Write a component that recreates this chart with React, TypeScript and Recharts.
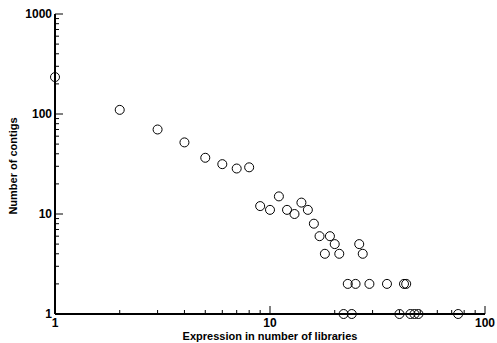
import { ScatterChart, Scatter, XAxis, YAxis } from "recharts";

// expression (number of libraries) vs number of contigs
const libraries = [
  1, 2, 3, 4, 5, 6, 7, 8, 9, 10, 11, 12, 13, 14, 15, 16, 17, 18, 19, 20, 21,
  23, 25, 22, 24, 26, 27, 29, 35, 40, 42, 43, 45, 47, 49, 75,
];
const contigs = [
  234, 110, 70, 52, 36.5, 31.5, 28.5, 29.3, 12, 11, 15, 11, 10, 13, 11, 8, 6,
  4, 6, 5, 4, 2, 2, 1, 1, 5, 4, 2, 2, 1, 2, 2, 1, 1, 1, 1,
];

const xTicks = [1, 2, 3, 4, 5, 6, 7, 8, 9, 10, 20, 30, 40, 50, 60, 70, 80, 90, 100];
const yTicks = [
  1, 2, 3, 4, 5, 6, 7, 8, 9, 10, 20, 30, 40, 50, 60, 70, 80, 90, 100, 200, 300,
  400, 500, 600, 700, 800, 900, 1000,
];

const points = libraries.map((x, i) => ({ x, y: contigs[i] }));

const FONT = "'Liberation Sans', Arial, Helvetica, sans-serif";
const isMajor = (v: number) => [1, 10, 100, 1000].includes(v);

const BottomTick = (props: any) => {
  const { x, y, payload } = props;
  const v = payload.value;
  const len = isMajor(v) ? 8 : 4;
  return (
    <g>
      <line x1={x} y1={y} x2={x} y2={y - len} stroke="#000" strokeWidth={1} />
      {isMajor(v) && (
        <text x={x} y={y + 13} textAnchor="middle" fontSize={12} fontWeight="bold" fontFamily={FONT} fill="#000">
          {v}
        </text>
      )}
    </g>
  );
};

const TopTick = (props: any) => {
  const { x, y, payload } = props;
  const len = isMajor(payload.value) ? 8 : 4;
  return <line x1={x} y1={y} x2={x} y2={y + len} stroke="#000" strokeWidth={1} />;
};

const LeftTick = (props: any) => {
  const { x, y, payload } = props;
  const v = payload.value;
  const len = isMajor(v) ? 8 : 4;
  return (
    <g>
      <line x1={x} y1={y} x2={x + len} y2={y} stroke="#000" strokeWidth={1} />
      {isMajor(v) && (
        <text x={x - 3} y={y + 4} textAnchor="end" fontSize={12} fontWeight="bold" fontFamily={FONT} fill="#000">
          {v}
        </text>
      )}
    </g>
  );
};

const RightTick = (props: any) => {
  const { x, y, payload } = props;
  const len = isMajor(payload.value) ? 8 : 4;
  return <line x1={x} y1={y} x2={x - len} y2={y} stroke="#000" strokeWidth={1} />;
};

const Ring = (props: any) => {
  const { cx, cy } = props;
  return <circle cx={cx} cy={cy} r={4.5} fill="none" stroke="#000" strokeWidth={1} />;
};

export default function App() {
  return (
    <div style={{ position: "absolute", left: 0, top: 0, background: "#fff" }}>
      <ScatterChart width={497} height={343} margin={{ top: 14, right: 12, bottom: 0, left: 0 }}>
        <XAxis
          xAxisId="b"
          dataKey="x"
          type="number"
          scale="log"
          domain={[1, 100]}
          ticks={xTicks}
          interval={0}
          height={29}
          tickSize={0}
          tickMargin={0}
          tickLine={false}
          tick={<BottomTick />}
          axisLine={{ stroke: "#000", strokeWidth: 2 }}
        />
        <XAxis
          xAxisId="t"
          orientation="top"
          dataKey="x"
          type="number"
          scale="log"
          domain={[1, 100]}
          ticks={xTicks}
          interval={0}
          height={0}
          tickSize={0}
          tickMargin={0}
          tickLine={false}
          tick={<TopTick />}
          axisLine={{ stroke: "#000", strokeWidth: 2 }}
        />
        <YAxis
          yAxisId="l"
          dataKey="y"
          type="number"
          scale="log"
          domain={[1, 1000]}
          ticks={yTicks}
          interval={0}
          width={55}
          tickSize={0}
          tickMargin={0}
          tickLine={false}
          tick={<LeftTick />}
          axisLine={{ stroke: "#000", strokeWidth: 2 }}
        />
        <YAxis
          yAxisId="r"
          orientation="right"
          dataKey="y"
          type="number"
          scale="log"
          domain={[1, 1000]}
          ticks={yTicks}
          interval={0}
          width={0}
          tickSize={0}
          tickMargin={0}
          tickLine={false}
          tick={<RightTick />}
          axisLine={{ stroke: "#000", strokeWidth: 2 }}
        />
        <Scatter
          data={points}
          xAxisId="b"
          yAxisId="l"
          shape={<Ring />}
          isAnimationActive={false}
        />
        <text x={270} y={340} textAnchor="middle" fontSize={11} fontWeight="bold" fontFamily={FONT} fill="#000">
          Expression in number of libraries
        </text>
        <text
          x={17}
          y={166}
          transform="rotate(-90 17 166)"
          textAnchor="middle"
          fontSize={11}
          fontWeight="bold"
          fontFamily={FONT}
          fill="#000"
        >
          Number of contigs
        </text>
      </ScatterChart>
    </div>
  );
}
